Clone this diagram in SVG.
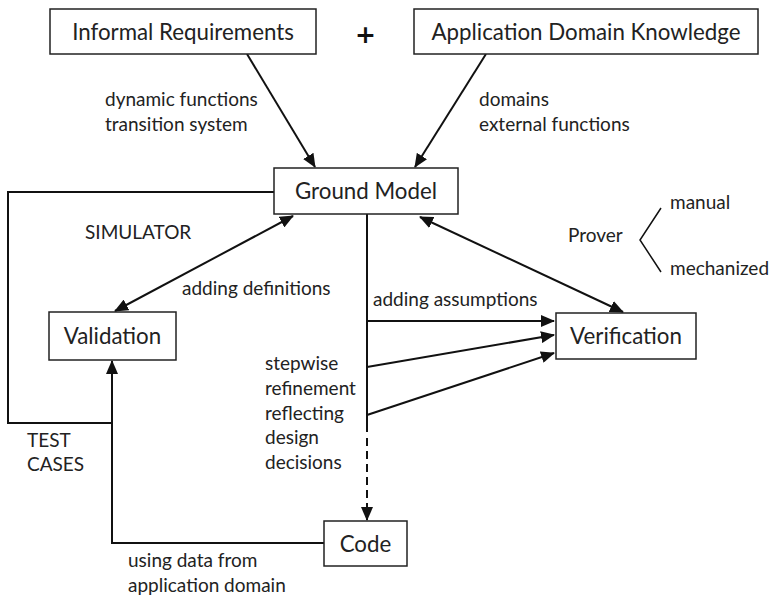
<svg xmlns="http://www.w3.org/2000/svg" width="772" height="597" viewBox="0 0 772 597">
<style>
.box{fill:#fff;stroke:#222;stroke-width:1.5}
.bl{font-family:Lato,"Open Sans","Liberation Sans",sans-serif;font-size:22.3px;fill:#222}
.el{font-family:Lato,"Open Sans","Liberation Sans",sans-serif;font-size:19px;fill:#222}
.ln{fill:none;stroke:#111;stroke-width:2}
</style>
<defs>
<marker id="ah" markerUnits="userSpaceOnUse" markerWidth="14" markerHeight="12" refX="13" refY="6" orient="auto-start-reverse" viewBox="0 0 14 12">
<path d="M0,0 L14,6 L0,12 z" fill="#111"/>
</marker>
</defs>
<rect width="772" height="597" fill="#fff"/>
<g id="connectors">
<line class="ln" x1="247" y1="54" x2="315" y2="167" marker-end="url(#ah)"/>
<line class="ln" x1="486" y1="54" x2="415" y2="167" marker-end="url(#ah)"/>
<polyline class="ln" points="274,192 8,192 8,423 112,423"/>
<polyline class="ln" points="324,543 112,543 112,361" marker-end="url(#ah)"/>
<line class="ln" x1="293" y1="216" x2="115" y2="311" marker-start="url(#ah)" marker-end="url(#ah)"/>
<line class="ln" x1="420" y1="217" x2="623" y2="312" marker-start="url(#ah)" marker-end="url(#ah)"/>
<line class="ln" x1="367" y1="214" x2="367" y2="432"/>
<line class="ln" x1="367" y1="438" x2="367" y2="520" stroke-dasharray="8,5" marker-end="url(#ah)"/>
<line class="ln" x1="367" y1="321" x2="554" y2="321" marker-end="url(#ah)"/>
<line class="ln" x1="367" y1="367" x2="554" y2="335" marker-end="url(#ah)"/>
<line class="ln" x1="367" y1="415" x2="554" y2="353" marker-end="url(#ah)"/>
<polyline class="ln" points="661,208 640,240 661,272" style="stroke-width:1.5"/>
</g>
<g id="informal"><rect class="box" x="50" y="9" width="266" height="45"/><text class="bl" x="183" y="40" text-anchor="middle">Informal Requirements</text></g>
<g id="plus"><text x="365.5" y="43" text-anchor="middle" style="font-family:'DejaVu Sans',sans-serif;font-weight:bold;font-size:25px;fill:#111">+</text></g>
<g id="adk"><rect class="box" x="414" y="9" width="344" height="45"/><text class="bl" x="586" y="40" text-anchor="middle">Application Domain Knowledge</text></g>
<g id="ground"><rect class="box" x="274" y="168" width="184" height="46"/><text class="bl" x="366" y="199" text-anchor="middle">Ground Model</text></g>
<g id="validation"><rect class="box" x="49" y="312" width="127" height="48"/><text class="bl" x="112.5" y="344" text-anchor="middle">Validation</text></g>
<g id="verification"><rect class="box" x="556" y="313" width="140" height="46"/><text class="bl" x="626" y="344" text-anchor="middle">Verification</text></g>
<g id="code"><rect class="box" x="324" y="521" width="83" height="45"/><text class="bl" x="365.5" y="552" text-anchor="middle">Code</text></g>
<g id="labels">
<text class="el" x="105" y="106">dynamic functions</text>
<text class="el" x="105" y="131">transition system</text>
<text class="el" x="479" y="106">domains</text>
<text class="el" x="479" y="131">external functions</text>
<text class="el" x="85" y="239">SIMULATOR</text>
<text class="el" x="182" y="295">adding definitions</text>
<text class="el" x="373" y="306">adding assumptions</text>
<text class="el" x="568" y="242">Prover</text>
<text class="el" x="670" y="209">manual</text>
<text class="el" x="670" y="275">mechanized</text>
<text class="el" x="265" y="370">stepwise</text>
<text class="el" x="265" y="395">refinement</text>
<text class="el" x="265" y="420">reflecting</text>
<text class="el" x="265" y="444">design</text>
<text class="el" x="265" y="469">decisions</text>
<text class="el" x="27" y="447">TEST</text>
<text class="el" x="27" y="471">CASES</text>
<text class="el" x="128" y="567">using data from</text>
<text class="el" x="128" y="592">application domain</text>
</g>
</svg>
